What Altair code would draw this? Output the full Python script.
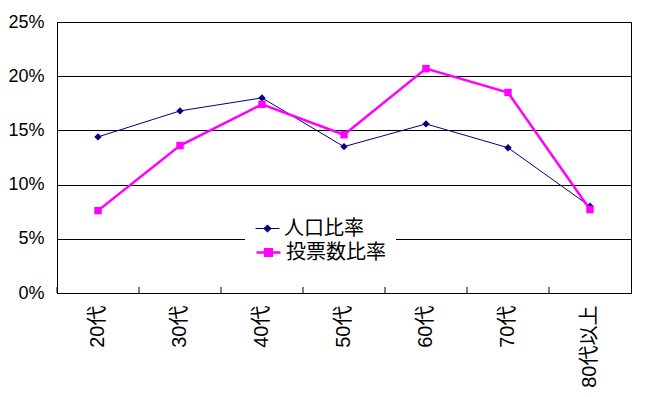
import altair as alt
import pandas as pd

categories = ["20代", "30代", "40代", "50代", "60代", "70代", "80代以上"]
population = [14.4, 16.8, 18.0, 13.5, 15.6, 13.4, 8.0]
votes = [7.6, 13.6, 17.4, 14.6, 20.7, 18.5, 7.7]
series_names = ["人口比率", "投票数比率"]
y_ticks = [0, 5, 10, 15, 20, 25]

rows = []
for c, v in zip(categories, population):
    rows.append({"cat": c, "series": series_names[0], "value": v})
for c, v in zip(categories, votes):
    rows.append({"cat": c, "series": series_names[1], "value": v})
df = pd.DataFrame(rows)
cat_df = pd.DataFrame({"cat": categories})

FONT = "Liberation Sans, Noto Sans CJK JP, sans-serif"
NAVY = "#000080"
MAG = "#FF00FF"

xscale = alt.Scale(type="band", paddingInner=0, paddingOuter=0)
xaxis = alt.Axis(title=None, labelAngle=270, labelAlign="right", labelBaseline="middle",
                 labelPadding=12, ticks=False, domainColor="black", labelFont=FONT,
                 labelFontSize=20, labelColor="black")
yenc = alt.Y("value:Q", scale=alt.Scale(domain=[0, 25], nice=False),
             axis=alt.Axis(title=None, values=y_ticks, labelExpr="datum.value + '%'",
                           grid=True, gridColor="black", gridOpacity=1, ticks=False,
                           domainColor="black", labelPadding=13, labelFont=FONT,
                           labelFontSize=18, labelColor="black"))

def xenc(bp):
    return alt.X("cat:N", sort=categories, scale=xscale, axis=xaxis, bandPosition=bp)

base = alt.Chart(df)

ticks = alt.Chart(cat_df).mark_rule(color="black", strokeWidth=1).encode(
    x=xenc(0), y=alt.value(265), y2=alt.value(271))

PATH_DIAMOND = "M-1,0L1,0M0,-0.3L0.3,0L0,0.3L-0.3,0Z"
PATH_SQUARE = "M-1,0L1,0M-0.28,-0.28L0.28,-0.28L0.28,0.28L-0.28,0.28Z"

def legend(path, color, sw, lx, ly, pad, z):
    return alt.Legend(title=None, orient="none", legendX=lx, legendY=ly,
                      symbolType=path, symbolSize=576, symbolFillColor=color,
                      symbolStrokeColor=color, symbolStrokeWidth=sw, symbolOpacity=1,
                      labelFont=FONT, labelFontSize=20, labelColor="black",
                      labelOffset=4, fillColor="white", padding=pad, zindex=z)

pop = base.transform_filter(alt.datum.series == series_names[0])
pop_line = pop.mark_line(color=NAVY, strokeWidth=1).encode(x=xenc(0.5), y=yenc)
pop_pts = pop.mark_point(filled=True, shape="diamond", size=55, opacity=1).encode(
    x=xenc(0.5), y=yenc,
    color=alt.Color("series:N", scale=alt.Scale(domain=[series_names[0]], range=[NAVY]),
                    legend=legend(PATH_DIAMOND, NAVY, 1, 198, 194, 0, 2)))

vot = base.transform_filter(alt.datum.series == series_names[1])
vot_line = vot.mark_line(color=MAG, strokeWidth=2.5).encode(x=xenc(0.5), y=yenc)
vot_pts = vot.mark_square(size=55, opacity=1).encode(
    x=xenc(0.5), y=yenc,
    color=alt.Color("series:N", scale=alt.Scale(domain=[series_names[1]], range=[MAG]),
                    legend=legend(PATH_SQUARE, MAG, 2.5, 188, 207, 10, 1)))

chart = alt.layer(ticks, pop_line, pop_pts, vot_line, vot_pts).resolve_scale(
    color="independent"
).properties(
    width=574, height=271, autosize="none",
    padding={"left": 49, "top": 14, "right": 8, "bottom": 96},
    background="white"
).configure_view(stroke="black", strokeWidth=1)

chart.save("out.html", embed_options={"renderer": "svg", "actions": False})
